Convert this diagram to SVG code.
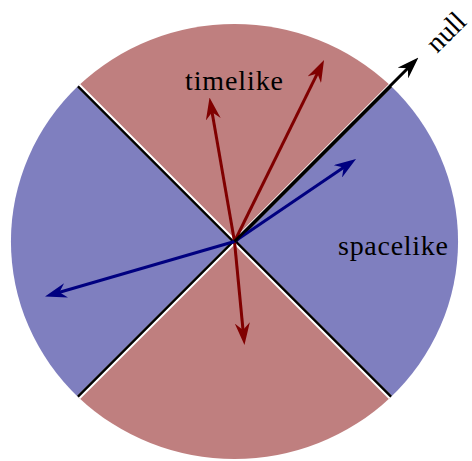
<svg xmlns="http://www.w3.org/2000/svg" xmlns:xlink="http://www.w3.org/1999/xlink" width="472" height="461" viewBox="0 0 472 461">
  <style>
    .red { fill: #bf7f7f; }
    .blue { fill: #7f7fbf; }
    .gap { stroke: #ffffff; stroke-width: 4.4; fill: none; }
    .cone { stroke: #000000; stroke-width: 2.5; fill: none; }
    .vec { stroke-width: 3; fill: none; }
    .tl { stroke: #800000; }
    .sl { stroke: #000080; }
    .nl { stroke: #000000; }
    .lbl { font-family: "Liberation Serif", "Times New Roman", serif; font-size: 28px; fill: #000000; }
  </style>
  <defs>
    <marker id="hRed" markerUnits="userSpaceOnUse" viewBox="0 0 22 15" refX="14" refY="7.5" markerWidth="22" markerHeight="15" orient="auto">
      <path d="M22,7.5 L0,0 L7,7.5 L0,15 Z" fill="#800000"/>
    </marker>
    <marker id="hBlue" markerUnits="userSpaceOnUse" viewBox="0 0 22 15" refX="14" refY="7.5" markerWidth="22" markerHeight="15" orient="auto">
      <path d="M22,7.5 L0,0 L7,7.5 L0,15 Z" fill="#000080"/>
    </marker>
    <marker id="hBlack" markerUnits="userSpaceOnUse" viewBox="0 0 22 15" refX="14" refY="7.5" markerWidth="22" markerHeight="15" orient="auto">
      <path d="M22,7.5 L0,0 L7,7.5 L0,15 Z" fill="#000000"/>
    </marker>
  </defs>

  <g id="sector-timelike-future">
    <path class="red" d="M234.5,241.5 L78.6,85.6 A223.5,217.5 0 0 1 390.4,85.6 Z"/>
  </g>
  <g id="sector-timelike-past">
    <path class="red" d="M234.5,241.5 L390.4,397.4 A223.5,217.5 0 0 1 78.6,397.4 Z"/>
  </g>
  <g id="sector-spacelike-right">
    <path class="blue" d="M234.5,241.5 L390.4,85.6 A223.5,217.5 0 0 1 390.4,397.4 Z"/>
  </g>
  <g id="sector-spacelike-left">
    <path class="blue" d="M234.5,241.5 L78.6,397.4 A223.5,217.5 0 0 1 78.6,85.6 Z"/>
  </g>

  <g id="lightcone">
    <path class="gap" d="M78.6,85.6 L390.4,397.4 M78.6,397.4 L390.4,85.6"/>
    <path class="cone" d="M234.5,242.9 L77.9,86.3 M234.5,240.1 L77.9,396.7 M234.5,240.1 L391.1,396.7 M234.5,242.9 L391.1,86.3"/>
  </g>

  <g id="connectors">
    <line class="vec tl" x1="234.5" y1="241.5" x2="210.9" y2="105.4" marker-end="url(#hRed)"/>
    <line class="vec tl" x1="234.5" y1="241.5" x2="320.5" y2="67.2" marker-end="url(#hRed)"/>
    <line class="vec tl" x1="234.5" y1="241.5" x2="243.7" y2="337" marker-end="url(#hRed)"/>
    <line class="vec sl" x1="234.5" y1="241.5" x2="349.4" y2="163.5" marker-end="url(#hBlue)"/>
    <line class="vec sl" x1="234.5" y1="241.5" x2="52.7" y2="294.3" marker-end="url(#hBlue)"/>
    <line class="vec nl" x1="234.5" y1="241.5" x2="412.8" y2="63.2" marker-end="url(#hBlack)"/>
  </g>

  <g id="label-timelike">
    <text class="lbl" x="185" y="90" textLength="98" lengthAdjust="spacing">timelike</text>
  </g>
  <g id="label-spacelike">
    <text class="lbl" x="338" y="255" textLength="110" lengthAdjust="spacing">spacelike</text>
  </g>
  <g id="label-null">
    <text class="lbl" transform="translate(437,54) rotate(-45)">null</text>
  </g>
</svg>
